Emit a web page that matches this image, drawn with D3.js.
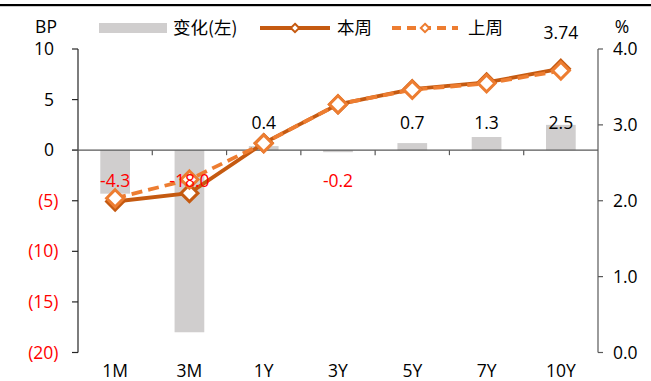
<!DOCTYPE html>
<html>
<head>
<meta charset="utf-8">
<script src="https://cdn.jsdelivr.net/npm/d3@7/dist/d3.min.js"></script>
<style>
  html, body { margin: 0; padding: 0; background: #fff; }
  svg { display: block; font-family: "Open Sans", "Noto Sans CJK SC", sans-serif; }
  .cjk { font-family: "Noto Sans CJK SC", "Open Sans", sans-serif; }
</style>
</head>
<body>
<svg id="chart" width="651" height="381"></svg>
<script>
// Tenors along the curve
const tenors = ["1M", "3M", "1Y", "3Y", "5Y", "7Y", "10Y"];
// Weekly change in yield, basis points (left axis)
const changeBP = [-4.3, -18.0, 0.4, -0.2, 0.7, 1.3, 2.5];
// Yield this week, % (right axis)
const thisWeek = [1.99, 2.10, 2.76, 3.27, 3.47, 3.56, 3.74];
// Yield last week, % (right axis)
const lastWeek = [2.033, 2.28, 2.756, 3.272, 3.463, 3.547, 3.715];
// Axis ticks
const leftTicks = [10, 5, 0, -5, -10, -15, -20];
const rightTicks = [4.0, 3.0, 2.0, 1.0, 0.0];
// Legend labels
const legendLabels = ["变化(左)", "本周", "上周"];

const svg = d3.select("#chart");
const FONT = 17.5;
const C_BAR = "#D0CECE", C_THIS = "#C55A11", C_LAST = "#ED7D31", C_NEG = "#FF0000";

const plotL = 78, plotR = 598, plotT = 49, plotB = 352.5;

const x = d3.scaleBand().domain(tenors).range([plotL, plotR]).padding(0);
const yL = d3.scaleLinear().domain([-20, 10]).range([plotB, plotT]);
const yR = d3.scaleLinear().domain([0, 4]).range([plotB, plotT]);

// rule across the top
svg.append("rect").attr("x", 0).attr("y", 4).attr("width", 651).attr("height", 2.2).attr("fill", "#000");

// bars
const barW = x.bandwidth() * 0.4;
svg.append("g").selectAll("rect").data(tenors).join("rect")
  .attr("x", d => x(d) + (x.bandwidth() - barW) / 2)
  .attr("width", barW)
  .attr("y", (d, i) => yL(Math.max(0, changeBP[i])))
  .attr("height", (d, i) => Math.abs(yL(changeBP[i]) - yL(0)))
  .attr("fill", C_BAR);

// left axis
const gL = svg.append("g");
gL.append("line").attr("x1", plotL).attr("x2", plotL).attr("y1", plotT).attr("y2", plotB)
  .attr("stroke", "#262626").attr("stroke-width", 1.2);
gL.selectAll("line.t").data(leftTicks).join("line").attr("class", "t")
  .attr("x1", plotL - 6).attr("x2", plotL).attr("y1", d => yL(d)).attr("y2", d => yL(d))
  .attr("stroke", "#262626").attr("stroke-width", 1.2);
gL.selectAll("text").data(leftTicks).join("text")
  .attr("x", d => d < 0 ? 58.5 : 54)
  .attr("y", d => yL(d))
  .attr("dy", "0.35em")
  .attr("text-anchor", "end")
  .attr("font-size", FONT)
  .attr("fill", d => d < 0 ? C_NEG : "#000")
  .text(d => d < 0 ? `(${-d})` : `${d}`);
svg.append("text").attr("x", 46).attr("y", 27).attr("dy", "0.35em").attr("text-anchor", "middle")
  .attr("font-size", FONT).text("BP");

// right axis
const gR = svg.append("g");
gR.append("line").attr("x1", plotR).attr("x2", plotR).attr("y1", plotT).attr("y2", plotB)
  .attr("stroke", "#595959").attr("stroke-width", 1.2);
gR.selectAll("line.t").data(rightTicks).join("line").attr("class", "t")
  .attr("x1", plotR).attr("x2", plotR + 5).attr("y1", d => yR(d)).attr("y2", d => yR(d))
  .attr("stroke", "#595959").attr("stroke-width", 1.2);
gR.selectAll("text").data(rightTicks).join("text")
  .attr("x", 613).attr("y", d => yR(d)).attr("dy", "0.35em")
  .attr("font-size", FONT).text(d => d.toFixed(1));
svg.append("text").attr("x", 622).attr("y", 27).attr("dy", "0.35em").attr("text-anchor", "middle")
  .attr("font-size", FONT).text("%");

// category axis along zero
const y0 = yL(0);
const gX = svg.append("g");
gX.append("line").attr("x1", plotL - 6).attr("x2", plotR).attr("y1", y0).attr("y2", y0)
  .attr("stroke", "#595959").attr("stroke-width", 1.2);
gX.selectAll("line.t").data(tenors.slice(1)).join("line").attr("class", "t")
  .attr("x1", d => x(d)).attr("x2", d => x(d)).attr("y1", y0).attr("y2", y0 + 5)
  .attr("stroke", "#595959").attr("stroke-width", 1.2);
gX.selectAll("text").data(tenors).join("text")
  .attr("x", d => x(d) + x.bandwidth() / 2).attr("y", 371).attr("dy", "0.35em")
  .attr("text-anchor", "middle").attr("font-size", FONT).text(d => d);

// yield lines
const cx = d => x(d) + x.bandwidth() / 2;
const line = vals => d3.line().x((d, i) => cx(tenors[i])).y(d => yR(d))(vals);
svg.append("path").attr("d", line(thisWeek)).attr("fill", "none")
  .attr("stroke", C_THIS).attr("stroke-width", 3.8).attr("stroke-linejoin", "round");
svg.append("path").attr("d", line(lastWeek)).attr("fill", "none")
  .attr("stroke", C_LAST).attr("stroke-width", 3.8).attr("stroke-dasharray", "11,6");

const diamond = d3.symbol().type(d3.symbolDiamond2).size(185);
function markers(vals, color) {
  svg.append("g").selectAll("path").data(vals).join("path")
    .attr("d", diamond)
    .attr("transform", (d, i) => `translate(${cx(tenors[i])},${yR(d)})`)
    .attr("fill", "#fff").attr("stroke", color).attr("stroke-width", 3);
}
markers(thisWeek, C_THIS);
markers(lastWeek, C_LAST);

// change labels
svg.append("g").selectAll("text").data(changeBP).join("text")
  .attr("x", (d, i) => cx(tenors[i]))
  .attr("y", d => d < 0 ? y0 + 31 : y0 - 27)
  .attr("dy", "0.35em").attr("text-anchor", "middle").attr("font-size", FONT)
  .attr("fill", d => d < 0 ? C_NEG : "#000")
  .text(d => d.toFixed(1));

// latest 10Y yield
svg.append("text").attr("x", cx("10Y")).attr("y", 33).attr("dy", "0.35em")
  .attr("text-anchor", "middle").attr("font-size", FONT).text(thisWeek[6].toFixed(2));

// legend
const lg = svg.append("g");
const ly = 28;
lg.append("rect").attr("x", 99).attr("y", 23).attr("width", 68).attr("height", 10).attr("fill", C_BAR);
lg.append("text").attr("class", "cjk").attr("x", 173).attr("y", ly).attr("dy", "0.35em").attr("font-size", FONT).text(legendLabels[0]);
lg.append("line").attr("x1", 260).attr("x2", 330).attr("y1", ly).attr("y2", ly)
  .attr("stroke", C_THIS).attr("stroke-width", 3.8);
lg.append("path").attr("d", d3.symbol().type(d3.symbolDiamond2).size(45))
  .attr("transform", `translate(295,${ly})`)
  .attr("fill", "#fff").attr("stroke", C_THIS).attr("stroke-width", 2);
lg.append("text").attr("class", "cjk").attr("x", 337).attr("y", ly).attr("dy", "0.35em").attr("font-size", FONT).text(legendLabels[1]);
lg.append("line").attr("x1", 392).attr("x2", 458).attr("y1", ly).attr("y2", ly)
  .attr("stroke", C_LAST).attr("stroke-width", 3.8).attr("stroke-dasharray", "9,6");
lg.append("path").attr("d", d3.symbol().type(d3.symbolDiamond2).size(45))
  .attr("transform", `translate(425,${ly})`)
  .attr("fill", "#fff").attr("stroke", C_LAST).attr("stroke-width", 2);
lg.append("text").attr("class", "cjk").attr("x", 468).attr("y", ly).attr("dy", "0.35em").attr("font-size", FONT).text(legendLabels[2]);
</script>
</body>
</html>
